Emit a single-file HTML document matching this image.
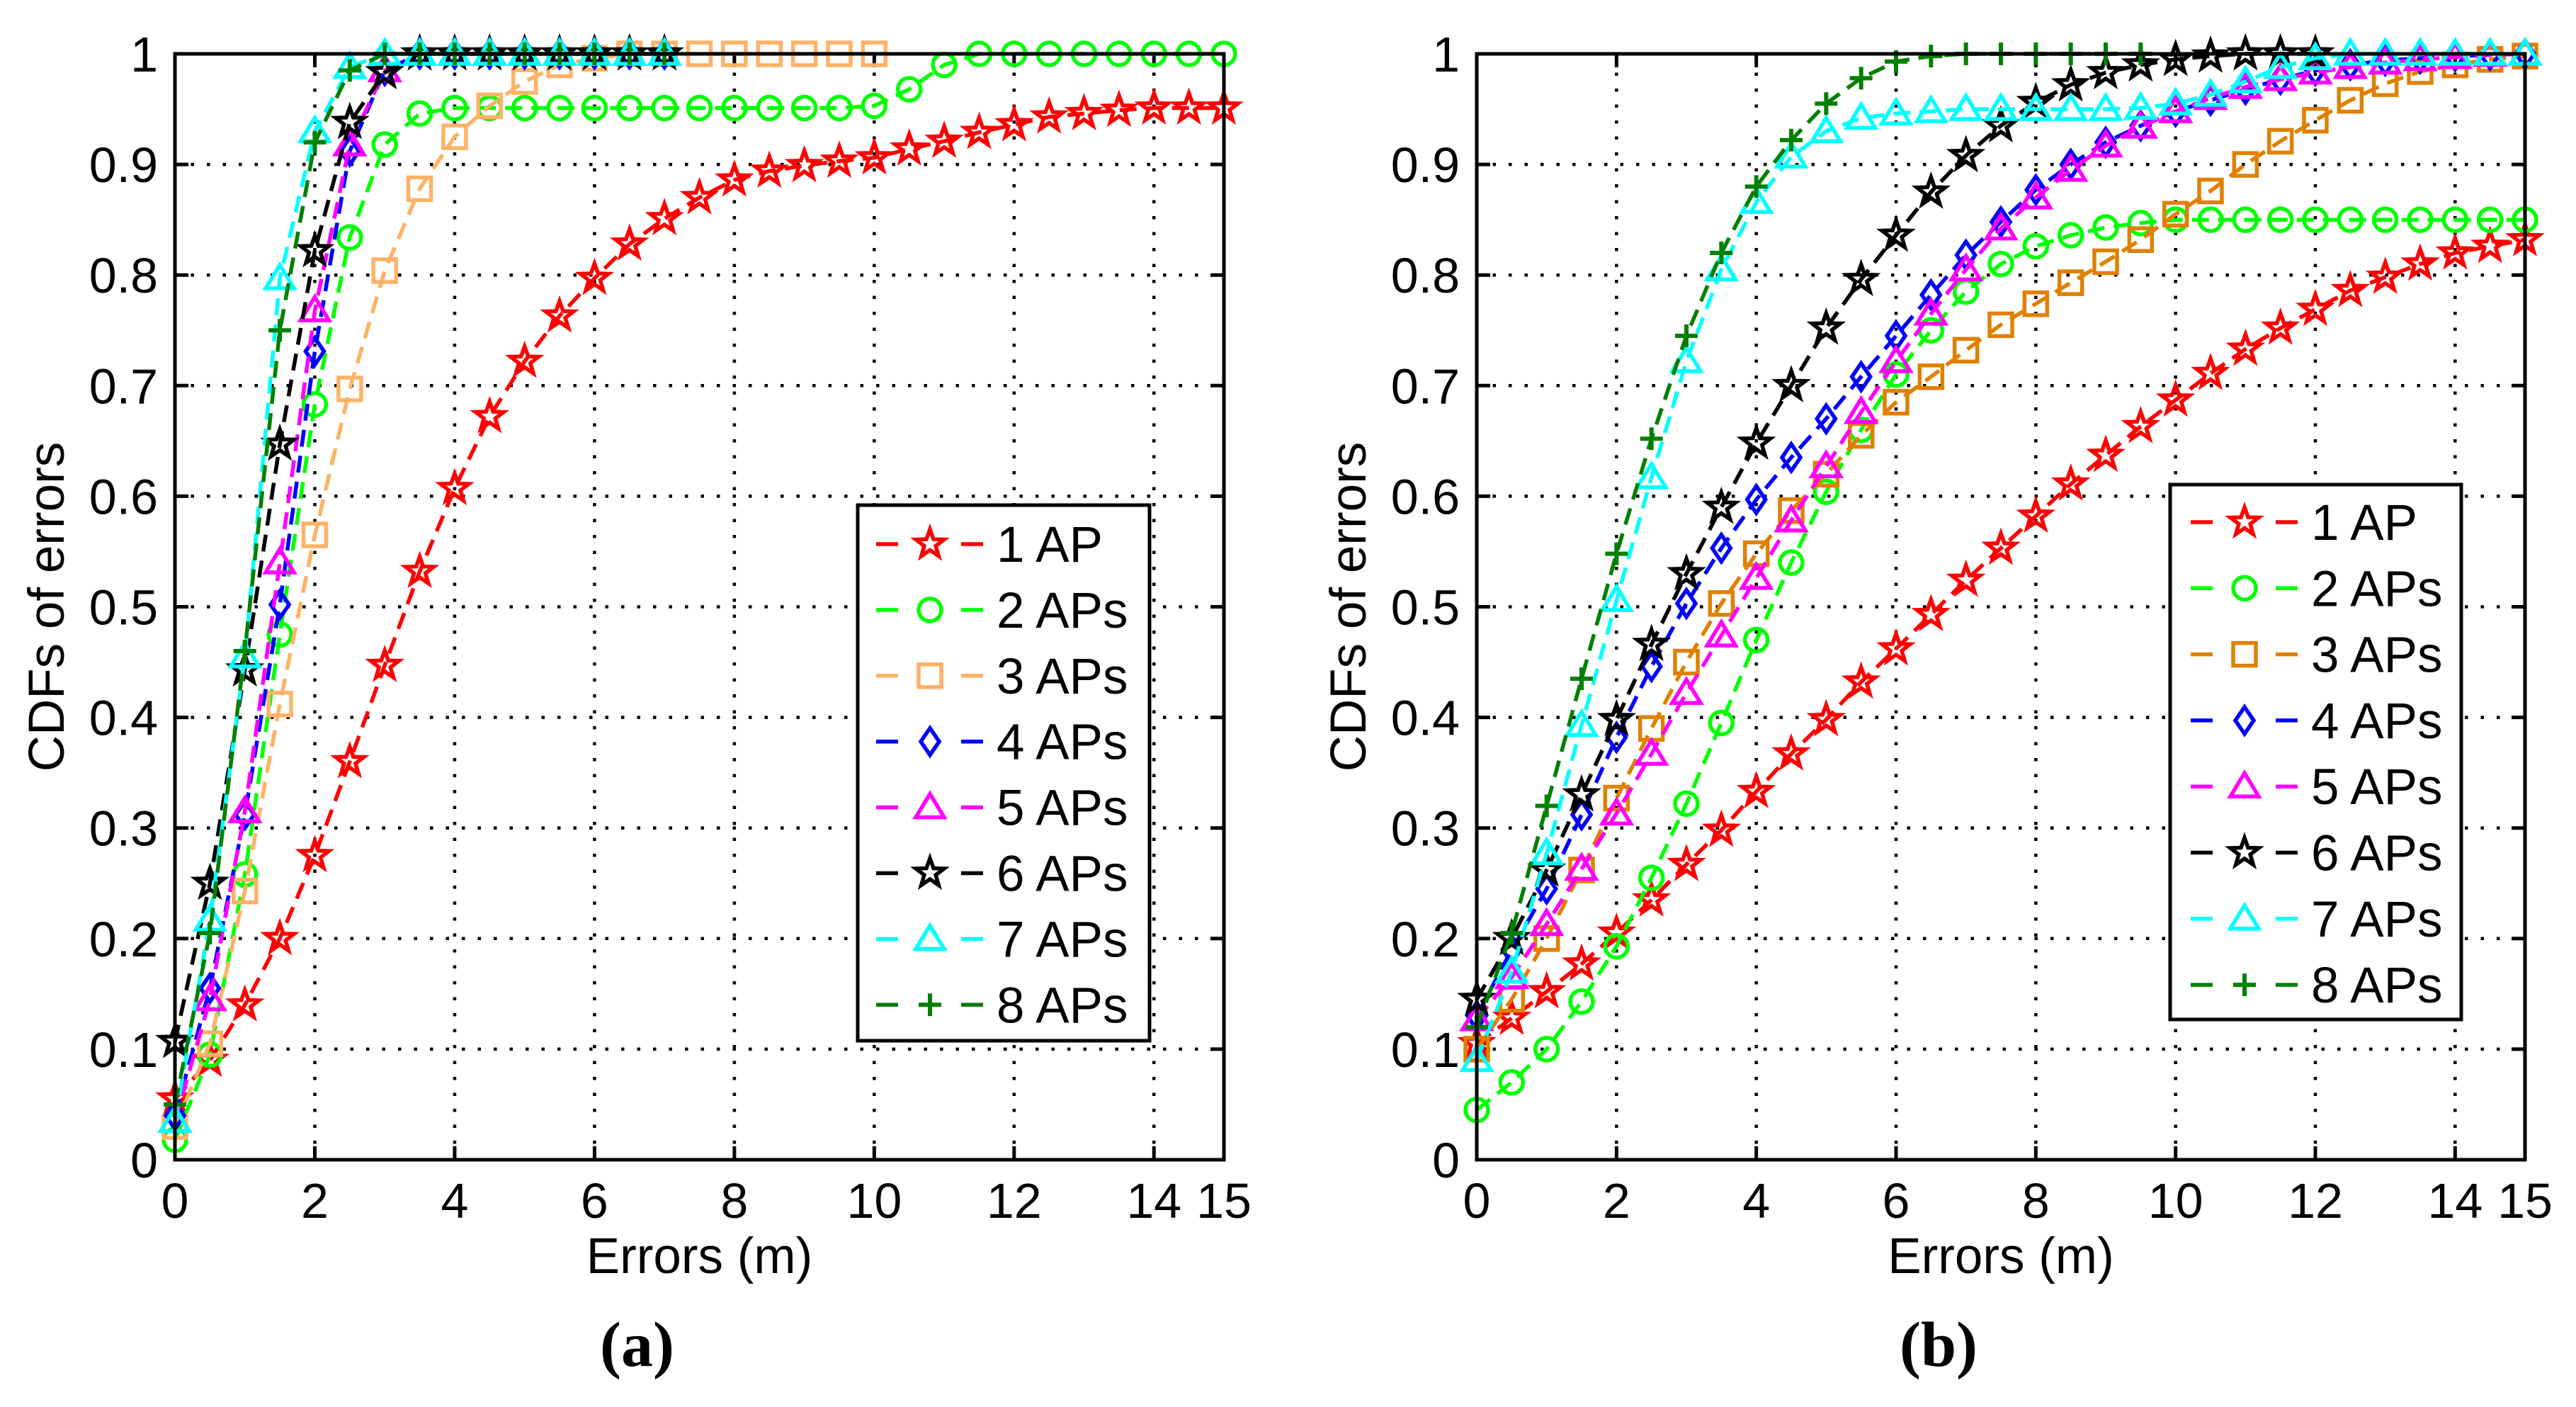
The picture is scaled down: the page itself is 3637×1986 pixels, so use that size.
<!DOCTYPE html>
<html><head><meta charset="utf-8">
<style>
html,body{margin:0;padding:0;background:#fff;}
svg{display:block;}
text{font-family:"Liberation Sans",Arial,sans-serif;fill:#000;}
.cap{font-family:"Liberation Serif","Times New Roman",serif;font-weight:bold;}
</style></head>
<body>
<svg id="fig" xmlns="http://www.w3.org/2000/svg" width="3637" height="1986" viewBox="0 0 3637 1986">
<rect x="0" y="0" width="3637" height="1986" fill="#fff"/>
</svg>
<script>
// ---- shared axis data ----
const xTicks = [0,2,4,6,8,10,12,14,15];
const yTicks = [0,0.1,0.2,0.3,0.4,0.5,0.6,0.7,0.8,0.9,1];
const yTickLabels = ["0","0.1","0.2","0.3","0.4","0.5","0.6","0.7","0.8","0.9","1"];
const seriesNames = ["1 AP","2 APs","3 APs","4 APs","5 APs","6 APs","7 APs","8 APs"];

// ---- panel (a) data: x every 0.5 from 0 ----
const a1 = [0.055,0.09,0.14,0.20,0.275,0.36,0.447,0.532,0.607,0.672,0.722,0.763,0.797,0.828,0.851,0.870,0.886,0.894,0.899,0.903,0.906,0.914,0.921,0.929,0.936,0.943,0.946,0.949,0.951,0.951,0.951];
const a2 = [0.018,0.095,0.258,0.475,0.683,0.834,0.918,0.946,0.951,0.951,0.951,0.951,0.951,0.951,0.951,0.951,0.951,0.951,0.951,0.951,0.953,0.968,0.99,1,1,1,1,1,1,1,1];
const a3 = [0.03,0.105,0.243,0.412,0.565,0.697,0.804,0.878,0.925,0.953,0.975,0.99,0.996,1,1,1,1,1,1,1,1];
const a4 = [0.04,0.155,0.312,0.502,0.731,0.912,0.985,1,1,1,1,1,1,1,1];
const a5 = [0.035,0.145,0.315,0.54,0.768,0.918,0.985,1,1,1,1,1,1,1,1];
const a6 = [0.107,0.25,0.443,0.647,0.822,0.938,0.983,1,1,1,1,1,1,1,1];
const a7 = [0.035,0.217,0.455,0.797,0.93,0.988,1,1,1,1,1,1,1,1,1];
const a8 = [0.05,0.205,0.46,0.75,0.92,0.985,1,1,1,1,1,1,1,1,1];

// ---- panel (b) data ----
const b1 = [0.105,0.128,0.152,0.177,0.205,0.235,0.267,0.298,0.333,0.367,0.398,0.432,0.462,0.493,0.524,0.553,0.582,0.611,0.637,0.663,0.687,0.711,0.733,0.752,0.769,0.786,0.798,0.810,0.820,0.826,0.832];
const b2 = [0.045,0.07,0.1,0.143,0.193,0.255,0.322,0.395,0.47,0.54,0.604,0.66,0.71,0.75,0.785,0.81,0.826,0.836,0.843,0.847,0.85,0.85,0.85,0.85,0.85,0.85,0.85,0.85,0.85,0.85,0.85];
const b3 = [0.1,0.145,0.2,0.262,0.327,0.39,0.45,0.503,0.548,0.587,0.62,0.655,0.685,0.708,0.732,0.755,0.774,0.793,0.812,0.832,0.855,0.876,0.9,0.921,0.94,0.958,0.973,0.984,0.99,0.995,0.998];
const b4 = [0.13,0.19,0.245,0.312,0.382,0.446,0.503,0.553,0.597,0.635,0.67,0.708,0.745,0.782,0.818,0.848,0.877,0.9,0.92,0.935,0.948,0.958,0.968,0.977,0.985,0.99,0.994,0.996,0.998,0.999,1];
const b5 = [0.127,0.165,0.213,0.263,0.313,0.367,0.422,0.474,0.526,0.578,0.627,0.676,0.722,0.765,0.805,0.842,0.87,0.895,0.917,0.934,0.948,0.96,0.97,0.977,0.983,0.988,0.992,0.995,0.997,0.999,1];
const b6 = [0.145,0.2,0.262,0.33,0.398,0.466,0.53,0.59,0.648,0.7,0.752,0.796,0.836,0.875,0.908,0.935,0.956,0.972,0.983,0.99,0.995,0.998,1,1,1];
const b7 = [0.09,0.17,0.277,0.393,0.506,0.617,0.722,0.805,0.866,0.907,0.93,0.942,0.946,0.948,0.95,0.95,0.95,0.95,0.95,0.951,0.955,0.963,0.975,0.988,0.996,1,1,1,1,1,1];
const b8 = [0.12,0.205,0.32,0.435,0.548,0.652,0.745,0.82,0.88,0.922,0.955,0.978,0.993,0.998,1,1,1,1,1,1];
const xStep = 0.5;

const NS = "http://www.w3.org/2000/svg";
const svg = document.getElementById('fig');
function mk(tag, attrs, parent){
  const e = document.createElementNS(NS, tag);
  for (const k in attrs) e.setAttribute(k, attrs[k]);
  (parent||svg).appendChild(e);
  return e;
}
const SW = 5.5;
function marker(g, type, cx, cy, color){
  let e;
  if (type === 'star'){
    let d = '';
    for (let i=0;i<10;i++){
      const r = i%2===0 ? 21 : 8.5;
      const ang = -Math.PI/2 + i*Math.PI/5;
      d += (i?'L':'M') + (cx + r*Math.cos(ang)).toFixed(1) + ' ' + (cy + r*Math.sin(ang)).toFixed(1);
    }
    e = mk('path',{d:d+'Z',fill:'none',stroke:color,'stroke-width':SW,'stroke-linejoin':'miter'},g);
  } else if (type === 'circle'){
    e = mk('circle',{cx:cx,cy:cy,r:16,fill:'none',stroke:color,'stroke-width':SW},g);
  } else if (type === 'square'){
    e = mk('rect',{x:cx-16,y:cy-16,width:32,height:32,fill:'none',stroke:color,'stroke-width':SW},g);
  } else if (type === 'diamond'){
    e = mk('path',{d:`M${cx} ${cy-19}L${cx+13} ${cy}L${cx} ${cy+19}L${cx-13} ${cy}Z`,fill:'none',stroke:color,'stroke-width':SW},g);
  } else if (type === 'triangle'){
    e = mk('path',{d:`M${cx} ${cy-19}L${cx+20} ${cy+14}L${cx-20} ${cy+14}Z`,fill:'none',stroke:color,'stroke-width':SW},g);
  } else if (type === 'plus'){
    e = mk('path',{d:`M${cx-16} ${cy}H${cx+16}M${cx} ${cy-16}V${cy+16}`,fill:'none',stroke:color,'stroke-width':SW+0.5},g);
  }
  
  
}

function panel(id, X0, X1, Y0, Y1, series, colors, legend, caption){
  const xs = v => X0 + (v/15)*(X1-X0);
  const ys = v => Y0 - v*(Y0-Y1);
  const g = mk('g',{});
  
  

  const grid = mk('g',{stroke:'#000','stroke-width':4.5,'stroke-dasharray':'4.5 18'},g);
  
  
  xTicks.forEach(t=>{ if(t>0 && t<15){ mk('line',{x1:xs(t),y1:Y0,x2:xs(t),y2:Y1},grid);} });
  yTicks.forEach(t=>{ if(t>0 && t<1){ mk('line',{x1:X0,y1:ys(t),x2:X1,y2:ys(t)},grid);} });

  const tk = mk('g',{stroke:'#000','stroke-width':5},g);
  
  
  xTicks.forEach(t=>{
    mk('line',{x1:xs(t),y1:Y0,x2:xs(t),y2:Y0-19},tk);
    mk('line',{x1:xs(t),y1:Y1,x2:xs(t),y2:Y1+19},tk);
  });
  yTicks.forEach(t=>{
    mk('line',{x1:X0,y1:ys(t),x2:X0+19,y2:ys(t)},tk);
    mk('line',{x1:X1,y1:ys(t),x2:X1-19,y2:ys(t)},tk);
  });

  series.forEach((s,si)=>{
    const sg = mk('g',{},g);
    
    
    const pts = s.vals.map((v,i)=> xs(i*xStep).toFixed(1)+','+ys(v).toFixed(1)).join(' ');
    const pl = mk('polyline',{points:pts,fill:'none',stroke:colors[si],'stroke-width':SW,'stroke-dasharray':'24 13'},sg);
    
    
    s.vals.forEach((v,i)=> marker(sg, s.m, xs(i*xStep), ys(v), colors[si]));
  });

  const box = mk('rect',{x:X0,y:Y1,width:X1-X0,height:Y0-Y1,fill:'none',stroke:'#000','stroke-width':5},g);
  
  

  xTicks.forEach(t=>{
    const e = mk('text',{x:xs(t),y:1719,'font-size':70,'text-anchor':'middle'},g);
    e.textContent = String(t);
    
    
  });
  yTicks.forEach((t,i)=>{
    const e = mk('text',{x:X0-24,y:ys(t)+25,'font-size':70,'text-anchor':'end'},g);
    e.textContent = yTickLabels[i];
    
    
  });
  const xt = mk('text',{x:(X0+X1)/2,y:1797,'font-size':71,'text-anchor':'middle'},g);
  xt.textContent = 'Errors (m)';
  
  
  const ytx = X0-157, yty = (Y0+Y1)/2;
  const yt = mk('text',{x:ytx,y:yty,'font-size':71,'text-anchor':'middle',transform:`rotate(-90 ${ytx} ${yty})`},g);
  yt.textContent = 'CDFs of errors';
  
  

  const lg = mk('g',{},g);
  
  
  const lb = mk('rect',{x:legend.x,y:legend.y,width:legend.w,height:legend.h,fill:'#fff',stroke:'#000','stroke-width':5},lg);
  
  
  series.forEach((s,si)=>{
    const eg = mk('g',{},lg);
    
    
    const cy = legend.y0 + si*legend.dy;
    const mx = legend.mx;
    mk('line',{x1:mx-76,y1:cy,x2:mx-45,y2:cy,stroke:colors[si],'stroke-width':SW},eg);
    mk('line',{x1:mx+44,y1:cy,x2:mx+75,y2:cy,stroke:colors[si],'stroke-width':SW},eg);
    marker(eg, s.m, mx, cy, colors[si]);
    const t = mk('text',{x:mx+94,y:cy+25,'font-size':71},eg);
    t.textContent = seriesNames[si];
    
    
  });

  const cap = mk('text',{x:(X0+X1)/2-88,y:1928,'font-size':90,'text-anchor':'middle','class':'cap'},g);
  cap.textContent = caption;
  
  
}

const markers = ['star','circle','square','diamond','triangle','star','triangle','plus'];
panel('a', 247, 1728, 1637, 76,
  [a1,a2,a3,a4,a5,a6,a7,a8].map((v,i)=>({vals:v,m:markers[i]})),
  ['#ff0000','#00ff00','#ffb266','#0000ff','#ff00ff','#000000','#00ffff','#008000'],
  {x:1211,y:713,w:412,h:756,y0:768,dy:92.9,mx:1313}, '(a)');
panel('b', 2085, 3565, 1637, 76,
  [b1,b2,b3,b4,b5,b6,b7,b8].map((v,i)=>({vals:v,m:markers[i]})),
  ['#ff0000','#00ff00','#e08000','#0000ff','#ff00ff','#000000','#00ffff','#008000'],
  {x:3064,y:684,w:411,h:755,y0:737,dy:93.3,mx:3169}, '(b)');
</script>
</body></html>
